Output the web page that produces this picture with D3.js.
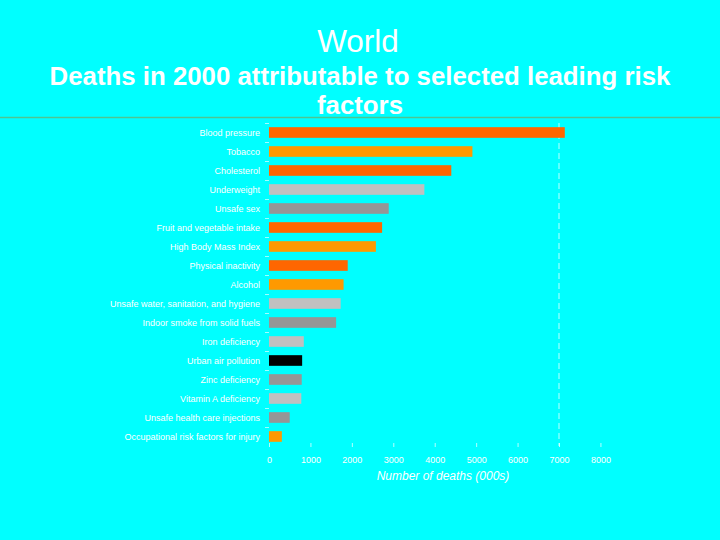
<!DOCTYPE html>
<html><head><meta charset="utf-8">
<script src="https://cdn.jsdelivr.net/npm/d3@7"></script>
<style>html,body{margin:0;padding:0;background:#00ffff;}svg{display:block;}</style>
</head><body>
<svg id="c" width="720" height="540"></svg>
<script>
const categories = ["Blood pressure","Tobacco","Cholesterol","Underweight","Unsafe sex","Fruit and vegetable intake","High Body Mass Index","Physical inactivity","Alcohol","Unsafe water, sanitation, and hygiene","Indoor smoke from solid fuels","Iron deficiency","Urban air pollution","Zinc deficiency","Vitamin A deficiency","Unsafe health care injections","Occupational risk factors for injury"];
const deaths = [7140,4910,4400,3750,2890,2730,2580,1900,1800,1730,1620,840,800,790,780,500,310];
const barColors = ["#ff6600","#ff9900","#ff6600","#c0c0c0","#969696","#ff6600","#ff9900","#ff6600","#ff9900","#c0c0c0","#969696","#c0c0c0","#000000","#969696","#c0c0c0","#969696","#ff9900"];
const tickValues = [0,1000,2000,3000,4000,5000,6000,7000,8000];

const svg = d3.select("#c");
svg.append("rect").attr("width",720).attr("height",540).attr("fill","#00ffff");

const FF = "Liberation Sans, Arial, sans-serif";
svg.append("text").attr("x",358).attr("y",52).attr("text-anchor","middle")
  .attr("font-family",FF).attr("font-size",31.5).attr("fill","#fff").text("World");
svg.append("text").attr("x",360).attr("y",85).attr("text-anchor","middle")
  .attr("font-family",FF).attr("font-weight","bold").attr("font-size",25.8).attr("fill","#fff")
  .text("Deaths in 2000 attributable to selected leading risk");
svg.append("text").attr("x",360).attr("y",114).attr("text-anchor","middle")
  .attr("font-family",FF).attr("font-weight","bold").attr("font-size",25.8).attr("fill","#fff")
  .text("factors");
svg.append("line").attr("x1",0).attr("x2",720).attr("y1",117.5).attr("y2",117.5).attr("stroke","#4cc593").attr("stroke-width",1.5);

const x = d3.scaleLinear().domain([0,7000]).range([269,559]);
const y = d3.scaleBand().domain(categories).range([123,446]).paddingInner(0.44).paddingOuter(0.22);

// dashed gridline at 7000
svg.append("line").attr("x1",x(7000)).attr("x2",x(7000)).attr("y1",123).attr("y2",446)
  .attr("stroke","#e8ffff").attr("stroke-width",1).attr("stroke-dasharray","6,4").attr("opacity",0.8);

// bars
svg.selectAll("rect.bar").data(categories).enter().append("rect").attr("class","bar")
  .attr("x",x(0)).attr("y",d=>y(d)).attr("width",(d,i)=>x(deaths[i])-x(0)).attr("height",y.bandwidth())
  .attr("fill",(d,i)=>barColors[i]);

// category labels
svg.selectAll("text.cat").data(categories).enter().append("text").attr("class","cat")
  .attr("x",260).attr("y",d=>y(d)+y.bandwidth()/2+3).attr("text-anchor","end")
  .attr("font-family",FF).attr("font-size",9).attr("fill","#fff")
  .text(d=>d);

// left axis small ticks
const step = y.step();
svg.selectAll("line.ltick").data(categories).enter().append("line").attr("class","ltick")
  .attr("x1",265).attr("x2",269).attr("y1",d=>y(d)-step*0.22+0.5).attr("y2",d=>y(d)-step*0.22+0.5)
  .attr("stroke","#fff").attr("stroke-width",0.8).attr("opacity",0.8);

// x axis
const xAxis = d3.axisBottom(x).tickValues(tickValues).tickSize(4).tickFormat(d3.format("d"));
const gx = svg.append("g").attr("transform","translate(0,443)").call(xAxis);
gx.select(".domain").remove();
gx.selectAll(".tick line").attr("stroke","#fff").attr("opacity",0.7);
gx.selectAll(".tick text").attr("fill","#fff").attr("font-family",FF)
  .attr("font-size",9).attr("dy","1.4em");

svg.append("text").attr("x",443).attr("y",480).attr("text-anchor","middle")
  .attr("font-family",FF).attr("font-style","italic").attr("font-size",12).attr("fill","#fff")
  .text("Number of deaths (000s)");
</script>
</body></html>
